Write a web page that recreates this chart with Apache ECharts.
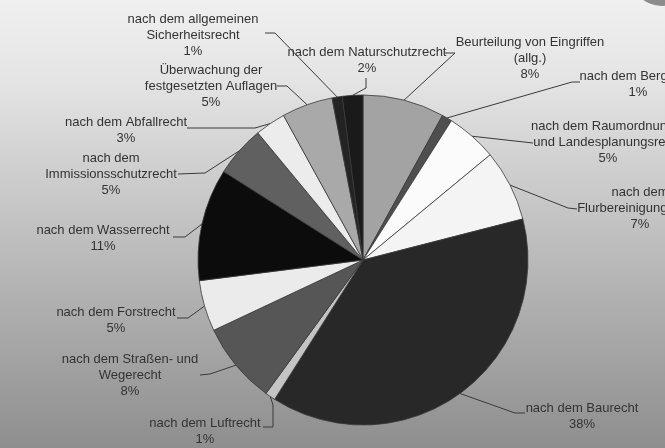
<!DOCTYPE html>
<html>
<head>
<meta charset="utf-8">
<script src="https://cdn.jsdelivr.net/npm/echarts@6/dist/echarts.min.js"></script>
<style>
html,body{margin:0;padding:0;background:#fff;}
#c{width:665px;height:448px;}
</style>
</head>
<body>
<div id="c"></div>
<script>
// ---- data ----
var categories = [
  "Beurteilung von Eingriffen\n(allg.)",
  "nach dem Bergrecht",
  "nach dem Raumordnungs-\nund Landesplanungsrecht",
  "nach dem\nFlurbereinigungsrecht",
  "nach dem Baurecht",
  "nach dem Luftrecht",
  "nach dem Straßen- und\nWegerecht",
  "nach dem Forstrecht",
  "nach dem Wasserrecht",
  "nach dem\nImmissionsschutzrecht",
  "nach dem Abfallrecht",
  "Überwachung der\nfestgesetzten Auflagen",
  "nach dem allgemeinen\nSicherheitsrecht",
  "nach dem Naturschutzrecht"
];
var percentValues = [8, 1, 5, 7, 38, 1, 8, 5, 11, 5, 3, 5, 1, 2];

// ---- styles / layout (not data) ----
var sliceColors = ["#a3a3a3", "#4f4f4f", "#fbfbfb", "#f4f4f4", "#282828", "#c4c4c4",
  "#565656", "#ebebeb", "#0c0c0c", "#606060", "#ececec", "#a9a9a9", "#232323", "#1a1a1a"];
// label anchor: [centerX, firstLineCenterY]
var labelAnchors = [
  [530, 42], [638, 76], [608, 126], [640, 192], [582, 408], [205, 423], [130, 359],
  [116, 312], [103, 230], [111, 158], [126, 122], [211, 70], [193, 19], [367, 52]
];
// leader line points after the slice edge point
var leaderPoints = [
  [[455, 53], [445, 53]],
  [[572, 82], [580, 82]],
  [[497, 139], [533, 143]],
  [[568, 208], [577, 209]],
  [[515, 413], [525, 413]],
  [[273, 405], [273, 427], [263, 427]],
  [[210, 374], [200, 375]],
  [[188, 318], [177, 318]],
  [[185, 237], [173, 237]],
  [[205, 173], [178, 174]],
  [[255, 128], [187, 128]],
  [[287, 86], [277, 86]],
  [[275, 33], [265, 33]],
  [[366, 88], [366, 78]]
];

var chart = echarts.init(document.getElementById('c'), null, {renderer: 'canvas'});
var data = categories.map(function (n, i) {
  return {name: n, value: percentValues[i], itemStyle: {color: sliceColors[i]}};
});
chart.setOption({
  animation: false,
  backgroundColor: new echarts.graphic.LinearGradient(0, 0, 0, 1, [
    {offset: 0, color: '#f0f0f0'},
    {offset: 0.18, color: '#e4e4e4'},
    {offset: 0.5, color: '#c2c2c2'},
    {offset: 1, color: '#8e8e8e'}
  ]),
  graphic: [{
    type: 'circle', shape: {cx: 662, cy: -26, r: 32},
    style: {fill: '#8c8c8c'}, silent: true
  }],
  series: [{
    type: 'pie',
    center: [363, 260],
    radius: 165,
    startAngle: 90,
    clockwise: true,
    data: data,
    itemStyle: {borderColor: '#3a3a3a', borderWidth: 0.8},
    label: {
      show: true,
      position: 'outside',
      formatter: '{b}\n{c}%',
      fontFamily: 'Liberation Sans, Arial, sans-serif',
      fontSize: 13,
      lineHeight: 16,
      color: '#333',
      align: 'center',
      overflow: 'none',
      width: 300
    },
    labelLine: {show: true, length: 10, length2: 10, lineStyle: {color: '#3a3a3a', width: 1}},
    labelLayout: function (params) {
      var i = params.dataIndex;
      var a = labelAnchors[i];
      var edge = params.labelLinePoints ? params.labelLinePoints[0] : [a[0], a[1]];
      var pts = [edge].concat(leaderPoints[i]);
      return {
        x: a[0], y: a[1] - 8,
        align: 'center', verticalAlign: 'top',
        labelLinePoints: pts,
        moveOverlap: null, hideOverlap: false
      };
    }
  }]
});
</script>
</body>
</html>
